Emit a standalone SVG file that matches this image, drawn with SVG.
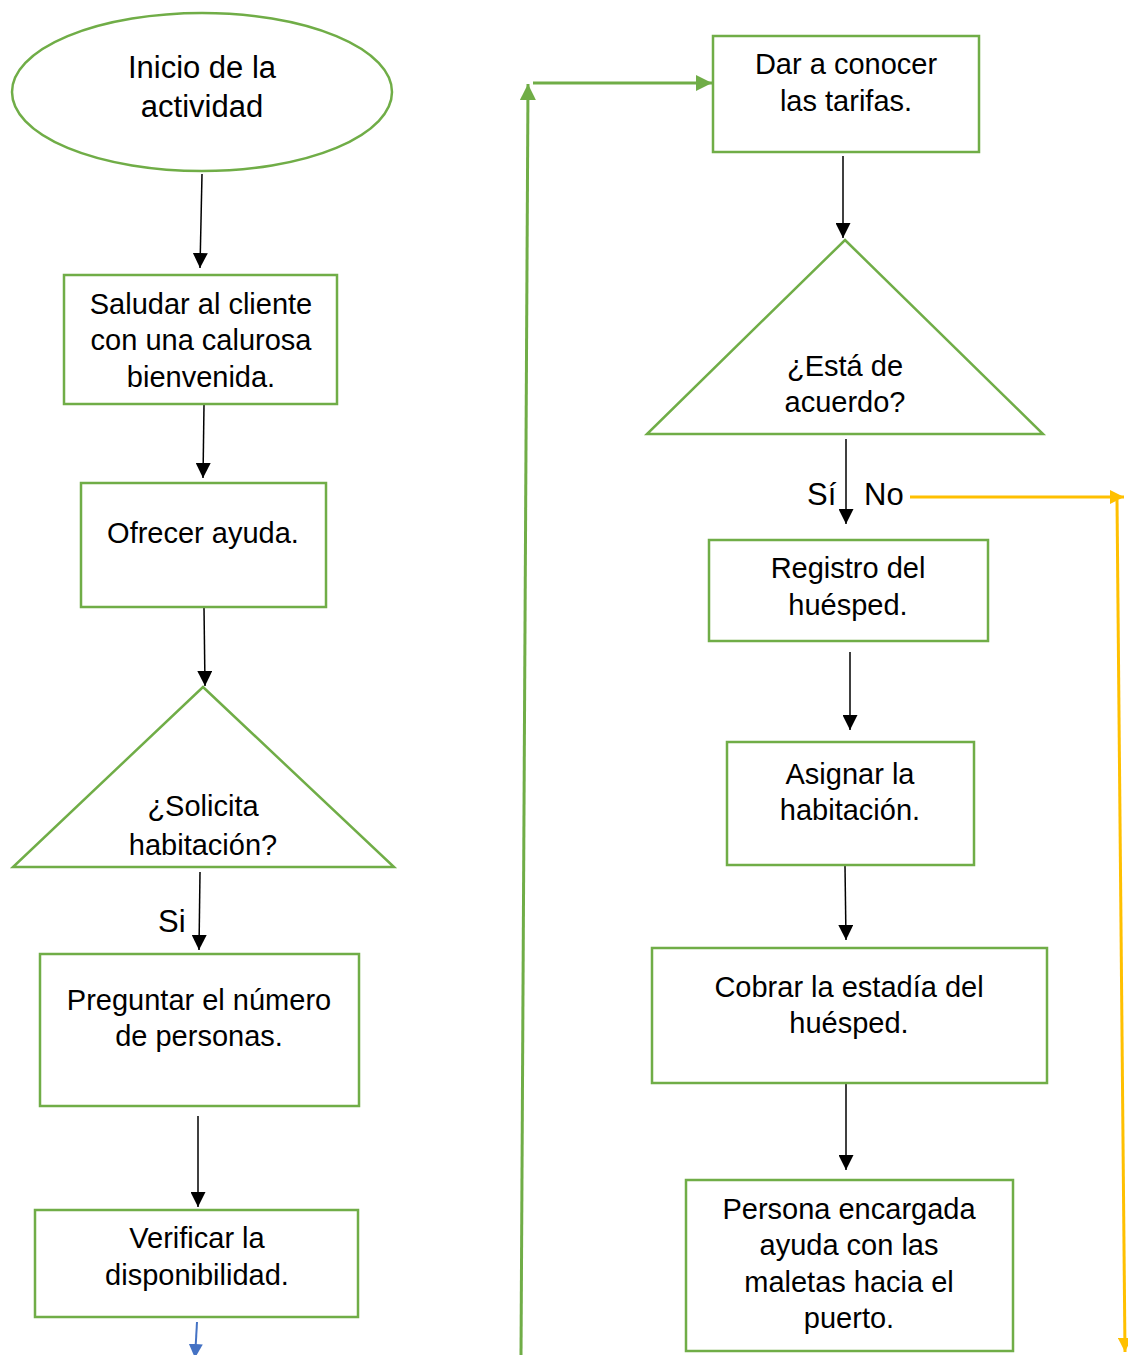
<svg xmlns="http://www.w3.org/2000/svg" width="1128" height="1355" viewBox="0 0 1128 1355">
  <style>
    .box { fill: #ffffff; stroke: #70AD47; stroke-width: 2.5; }
    .t { font-family: "Liberation Sans", Arial, sans-serif; font-size: 29px; fill: #000000; text-anchor: middle; }
    .big { font-size: 31px; }
    .lbl { font-family: "Liberation Sans", Arial, sans-serif; font-size: 31px; fill: #000000; }
    .blk { stroke: #000000; stroke-width: 1.5; fill: none; marker-end: url(#ahBlack); }
    .grn { stroke: #70AD47; stroke-width: 3; fill: none; marker-end: url(#ahGreen); }
    .yel { stroke: #FFC000; stroke-width: 3; fill: none; marker-end: url(#ahYellow); }
    .blu { stroke: #4472C4; stroke-width: 2; fill: none; marker-end: url(#ahBlue); }
  </style>
  <defs>
    <marker id="ahBlack" viewBox="0 0 10 10" refX="10" refY="5" markerWidth="15" markerHeight="15" markerUnits="userSpaceOnUse" orient="auto">
      <path d="M0,0 L10,5 L0,10 Z" fill="#000000"/>
    </marker>
    <marker id="ahGreen" viewBox="0 0 10 10" refX="10" refY="5" markerWidth="16" markerHeight="16" markerUnits="userSpaceOnUse" orient="auto">
      <path d="M0,0 L10,5 L0,10 Z" fill="#70AD47"/>
    </marker>
    <marker id="ahYellow" viewBox="0 0 10 10" refX="10" refY="5" markerWidth="14" markerHeight="14" markerUnits="userSpaceOnUse" orient="auto">
      <path d="M0,0 L10,5 L0,10 Z" fill="#FFC000"/>
    </marker>
    <marker id="ahBlue" viewBox="0 0 10 10" refX="10" refY="5" markerWidth="14" markerHeight="14" markerUnits="userSpaceOnUse" orient="auto">
      <path d="M0,0 L10,5 L0,10 Z" fill="#4472C4"/>
    </marker>
  </defs>

  <rect width="1128" height="1355" fill="#ffffff"/>

  <!-- connectors -->
  <g id="connectors">
    <line class="blk" x1="202" y1="174" x2="200" y2="268"/>
    <line class="blk" x1="204" y1="405" x2="203" y2="478"/>
    <line class="blk" x1="204" y1="608" x2="205" y2="686"/>
    <line class="blk" x1="200" y1="872" x2="199" y2="950"/>
    <line class="blk" x1="198" y1="1116" x2="198" y2="1207"/>
    <line class="blu" x1="197" y1="1322" x2="195" y2="1358"/>
    <polyline class="grn" points="521,1355 528,84"/>
    <line class="grn" x1="533" y1="83" x2="712" y2="83"/>
    <line class="blk" x1="843" y1="156" x2="843" y2="238"/>
    <line class="blk" x1="846" y1="439" x2="846" y2="524"/>
    <line class="yel" x1="910" y1="497" x2="1124" y2="497"/>
    <line class="yel" x1="1117" y1="500" x2="1125" y2="1352"/>
    <line class="blk" x1="850" y1="652" x2="850" y2="730"/>
    <line class="blk" x1="845" y1="866" x2="846" y2="940"/>
    <line class="blk" x1="846" y1="1084" x2="846" y2="1170"/>
  </g>

  <!-- nodes -->
  <g id="inicio">
    <ellipse class="box" cx="202" cy="92" rx="190" ry="79"/>
    <text class="t big" x="202" y="78">Inicio de la</text>
    <text class="t big" x="202" y="117">actividad</text>
  </g>
  <g id="saludar">
    <rect class="box" x="64" y="275" width="273" height="129"/>
    <text class="t" x="201" y="314">Saludar al cliente</text>
    <text class="t" x="201" y="350">con una calurosa</text>
    <text class="t" x="201" y="387">bienvenida.</text>
  </g>
  <g id="ofrecer">
    <rect class="box" x="81" y="483" width="245" height="124"/>
    <text class="t" x="203" y="543">Ofrecer ayuda.</text>
  </g>
  <g id="solicita">
    <polygon class="box" points="203,687 394,867 13,867"/>
    <text class="t" x="203" y="816">¿Solicita</text>
    <text class="t" x="203" y="855">habitación?</text>
  </g>
  <g id="preguntar">
    <rect class="box" x="40" y="954" width="319" height="152"/>
    <text class="t" x="199" y="1010">Preguntar el número</text>
    <text class="t" x="199" y="1046">de personas.</text>
  </g>
  <g id="verificar">
    <rect class="box" x="35" y="1210" width="323" height="107"/>
    <text class="t" x="197" y="1248">Verificar la</text>
    <text class="t" x="197" y="1285">disponibilidad.</text>
  </g>
  <g id="tarifas">
    <rect class="box" x="713" y="36" width="266" height="116"/>
    <text class="t" x="846" y="74">Dar a conocer</text>
    <text class="t" x="846" y="111">las tarifas.</text>
  </g>
  <g id="acuerdo">
    <polygon class="box" points="845,240 1043,434 647,434"/>
    <text class="t" x="845" y="376">¿Está de</text>
    <text class="t" x="845" y="412">acuerdo?</text>
  </g>
  <g id="registro">
    <rect class="box" x="709" y="540" width="279" height="101"/>
    <text class="t" x="848" y="578">Registro del</text>
    <text class="t" x="848" y="615">huésped.</text>
  </g>
  <g id="asignar">
    <rect class="box" x="727" y="742" width="247" height="123"/>
    <text class="t" x="850" y="784">Asignar la</text>
    <text class="t" x="850" y="820">habitación.</text>
  </g>
  <g id="cobrar">
    <rect class="box" x="652" y="948" width="395" height="135"/>
    <text class="t" x="849" y="997">Cobrar la estadía del</text>
    <text class="t" x="849" y="1033">huésped.</text>
  </g>
  <g id="maletas">
    <rect class="box" x="686" y="1180" width="327" height="171"/>
    <text class="t" x="849" y="1219">Persona encargada</text>
    <text class="t" x="849" y="1255">ayuda con las</text>
    <text class="t" x="849" y="1292">maletas hacia el</text>
    <text class="t" x="849" y="1328">puerto.</text>
  </g>

  <!-- branch labels -->
  <g id="labels">
    <text class="lbl" x="158" y="932">Si</text>
    <text class="lbl" x="807" y="505">Sí</text>
    <text class="lbl" x="864" y="505">No</text>
  </g>
</svg>
